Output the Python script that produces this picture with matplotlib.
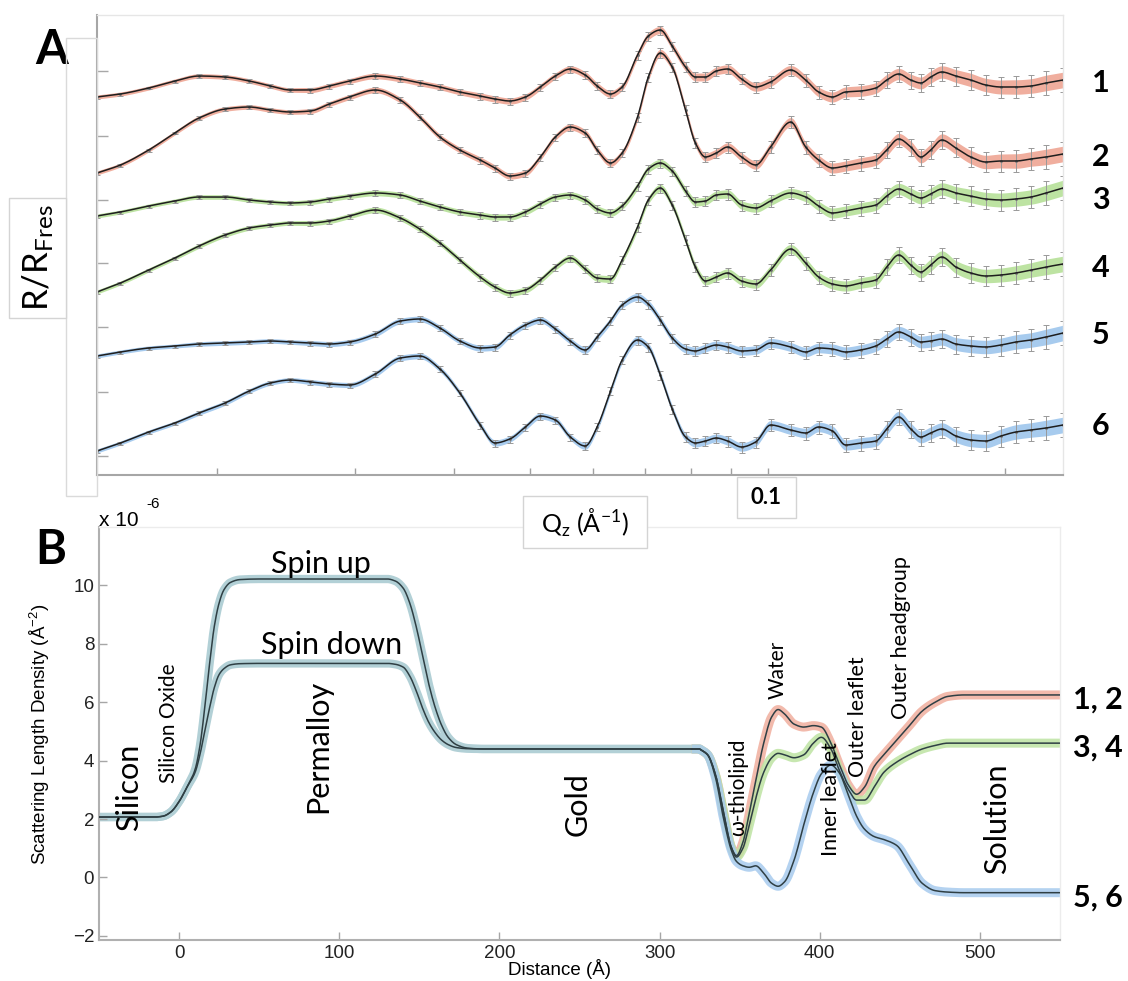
import numpy as np
import matplotlib
matplotlib.use('Agg')
import matplotlib.pyplot as plt
from matplotlib.patches import Rectangle
from matplotlib.ticker import NullFormatter, NullLocator

W, H = 1128, 981

# --- PANEL A DATA: R/RFres (offset, arbitrary units) on a shared Qz grid ---
q = [0.0141, 0.0151, 0.0164, 0.0177, 0.0190, 0.0205, 0.0220, 0.0234, 0.0248, 0.0263,
     0.0278, 0.0295, 0.0318, 0.0342, 0.0362, 0.0384, 0.0407, 0.0432, 0.0451, 0.0471,
     0.0493, 0.0515, 0.0538, 0.0562, 0.0587, 0.0608, 0.0632, 0.0654, 0.0684, 0.0706,
     0.0731, 0.0757, 0.0787, 0.0810, 0.0834, 0.0861, 0.0890, 0.0927, 0.0966, 0.1009,
     0.1070, 0.1118, 0.1161, 0.1209, 0.1256, 0.1313, 0.1372, 0.1417, 0.1467, 0.1520,
     0.1565, 0.1611, 0.1664, 0.1734, 0.1811, 0.1892, 0.1978, 0.2066, 0.2159, 0.2256, 0.2371]

r1 = [37.8, 38.1, 38.7, 39.4, 39.9, 39.8, 39.4, 38.9, 38.5, 38.5, 38.9, 39.4, 39.9, 39.6,
      39.2, 38.8, 38.3, 37.9, 37.6, 37.4, 37.8, 38.8, 39.9, 40.6, 40.0, 38.9, 38.1, 38.8,
      42.0, 43.9, 44.5, 42.9, 40.8, 39.8, 39.8, 40.4, 40.6, 39.6, 38.8, 39.3, 40.5, 39.5,
      38.3, 37.8, 38.3, 38.4, 38.7, 39.5, 40.1, 39.5, 39.2, 39.8, 40.3, 39.9, 39.5, 39.0,
      38.8, 38.8, 38.9, 39.2, 39.5]
r2 = [30.2, 31.0, 32.5, 34.2, 35.7, 36.6, 36.8, 36.5, 36.3, 36.4, 37.1, 37.8, 38.5, 37.5,
      35.8, 33.8, 32.5, 31.5, 30.7, 29.9, 30.2, 31.8, 33.8, 34.8, 34.2, 32.5, 31.2, 32.2,
      35.8, 39.8, 42.2, 40.8, 36.5, 33.2, 31.8, 32.2, 32.8, 31.8, 31.0, 32.8, 35.3, 32.8,
      31.5, 30.7, 30.9, 31.2, 31.5, 32.5, 33.6, 32.8, 31.8, 32.5, 33.5, 32.7, 31.8, 31.3,
      31.4, 31.4, 31.6, 31.8, 32.1]
r3 = [25.9, 26.3, 26.9, 27.4, 27.8, 27.8, 27.5, 27.3, 27.2, 27.3, 27.6, 27.9, 28.2, 28.0,
      27.4, 26.8, 26.3, 26.0, 25.8, 25.8, 26.3, 27.1, 27.8, 28.0, 27.5, 26.6, 26.2, 26.9,
      28.9, 30.6, 31.2, 30.4, 28.4, 27.3, 27.4, 28.0, 28.1, 27.0, 26.7, 27.4, 28.2, 27.8,
      26.9, 26.2, 26.4, 26.7, 27.0, 27.9, 28.6, 28.1, 27.7, 28.1, 28.6, 28.2, 27.9, 27.6,
      27.5, 27.6, 27.8, 28.2, 28.7]
r4 = [18.3, 19.2, 20.5, 21.7, 22.9, 24.0, 24.7, 25.0, 25.2, 25.2, 25.4, 25.9, 26.5, 25.7,
      24.6, 23.2, 21.5, 19.8, 18.8, 18.2, 18.5, 19.5, 20.8, 21.7, 20.6, 19.7, 19.6, 21.5,
      24.8, 27.5, 28.7, 27.0, 23.5, 20.8, 19.4, 19.8, 20.2, 19.4, 19.1, 20.5, 22.6, 21.2,
      19.8, 19.1, 18.9, 19.2, 19.5, 20.8, 22.0, 21.0, 20.3, 21.0, 21.8, 20.8, 20.2, 19.9,
      20.0, 20.2, 20.5, 20.8, 21.1]
r5 = [11.9, 12.3, 12.7, 12.9, 13.1, 13.2, 13.3, 13.4, 13.3, 13.2, 13.1, 13.3, 14.1, 15.4,
      15.6, 14.7, 13.4, 12.7, 12.8, 14.0, 15.0, 15.5, 14.6, 13.4, 12.5, 13.8, 15.4, 17.0,
      17.8, 17.1, 15.5, 13.7, 12.6, 12.4, 12.7, 13.0, 12.8, 12.4, 12.5, 13.2, 12.8, 12.3,
      12.7, 12.6, 12.3, 12.5, 12.9, 13.6, 14.3, 13.8, 13.3, 13.4, 13.6, 13.1, 12.9, 12.8,
      13.0, 13.3, 13.5, 13.8, 14.2]
r6 = [2.4, 3.2, 4.3, 5.2, 6.2, 7.2, 8.4, 9.2, 9.5, 9.3, 9.1, 9.0, 10.1, 11.7,
      11.9, 10.6, 8.2, 5.0, 3.2, 3.6, 4.8, 5.9, 5.5, 3.8, 2.9, 4.8, 8.4, 11.5,
      13.5, 12.8, 10.0, 6.6, 3.8, 3.2, 3.4, 3.7, 3.4, 2.8, 3.3, 5.0, 4.5, 4.2,
      4.8, 4.4, 3.0, 3.2, 3.4, 4.6, 5.8, 4.6, 3.8, 4.2, 4.6, 3.9, 3.5, 3.4,
      3.9, 4.3, 4.5, 4.7, 5.0]
err = [0.15, 0.15, 0.15, 0.15, 0.2, 0.2, 0.2, 0.2, 0.2, 0.25, 0.25, 0.25,
       0.3, 0.3, 0.3, 0.3, 0.3, 0.35, 0.35, 0.35, 0.35, 0.35, 0.35, 0.35, 0.4,
       0.4, 0.4, 0.4, 0.45, 0.45, 0.45, 0.45, 0.5, 0.5, 0.5, 0.5, 0.55, 0.55, 0.55,
       0.6, 0.6, 0.65, 0.65, 0.7, 0.7, 0.75, 0.75, 0.8, 0.8,
       0.85, 0.85, 0.9, 0.9, 0.95, 1.0, 1.0, 1.05, 1.1, 1.1, 1.2, 1.2]
curve_labels = ['1', '2', '3', '4', '5', '6']
a_yticks = [1.9, 8.3, 14.8, 21.2, 27.5, 33.9, 40.4]

# --- PANEL B DATA: SLD profiles (1e-6 / A^2) ---
sub_d = [-50, -15, -10, -5, 0, 5, 10, 13, 16, 19, 22, 25, 28, 32, 38, 50, 130, 135,
         140, 144, 148, 152, 156, 160, 164, 168, 173, 180, 190, 320]
spin_up = [2.07, 2.07, 2.1, 2.25, 2.6, 3.1, 3.7, 4.5, 5.8, 7.3, 8.6, 9.4, 9.85, 10.1,
           10.2, 10.22, 10.22, 10.15, 9.9, 9.4, 8.6, 7.6, 6.6, 5.8, 5.2, 4.8, 4.55,
           4.43, 4.4, 4.4]
spin_down = [2.07, 2.07, 2.1, 2.25, 2.6, 3.1, 3.6, 4.2, 5.0, 5.8, 6.5, 6.95, 7.15, 7.28,
             7.32, 7.33, 7.33, 7.3, 7.2, 6.9, 6.4, 5.8, 5.3, 4.95, 4.7, 4.55, 4.45,
             4.41, 4.4, 4.4]
tail_d = [325, 330, 335, 340, 345, 348, 352, 356, 360, 365, 370, 374, 378, 384, 390, 396,
          401, 407, 412, 418, 423, 428, 434, 440, 448, 456, 464, 472, 480, 490, 550]
tail_12 = [4.4, 4.2, 3.5, 2.2, 1.0, 0.75, 1.2, 2.2, 3.3, 4.6, 5.5, 5.75, 5.6, 5.25, 5.15,
           5.2, 5.15, 4.6, 3.9, 3.15, 2.85, 3.1, 3.8, 4.2, 4.7, 5.2, 5.7, 6.0, 6.2, 6.25, 6.25]
tail_34 = [4.4, 4.2, 3.5, 2.2, 1.0, 0.7, 1.0, 1.8, 2.7, 3.6, 4.1, 4.25, 4.2, 4.1, 4.2,
           4.6, 4.8, 4.4, 3.7, 3.0, 2.65, 2.65, 3.1, 3.6, 3.95, 4.2, 4.4, 4.52, 4.6, 4.6, 4.6]
tail_56 = [4.4, 4.2, 3.4, 2.0, 0.9, 0.55, 0.4, 0.35, 0.4, 0.15, -0.2, -0.3, -0.15, 0.6, 1.8,
           2.9, 3.55, 3.85, 3.6, 2.8, 2.1, 1.65, 1.4, 1.3, 1.1, 0.45, -0.2, -0.45, -0.5,
           -0.52, -0.52]
group_labels = ['1, 2', '3, 4', '5, 6']

RED, GREEN, BLUE = '#f0ae9e', '#bde3a2', '#a7cbee'
SUB = '#b2d0d6'
LINE_B = '#2f3f44'


def pchip(x, y, n=10):
    """Smooth monotone cubic through the read points (display only)."""
    x = np.asarray(x, float)
    y = np.asarray(y, float)
    h = np.diff(x)
    s = np.diff(y) / h
    m = np.zeros_like(y)
    m[0], m[-1] = s[0], s[-1]
    for k in range(1, len(x) - 1):
        if s[k - 1] * s[k] > 0:
            w1 = 2 * h[k] + h[k - 1]
            w2 = h[k] + 2 * h[k - 1]
            m[k] = (w1 + w2) / (w1 / s[k - 1] + w2 / s[k])
    t = np.linspace(0, 1, n, endpoint=False)
    h00 = 2 * t**3 - 3 * t**2 + 1
    h10 = t**3 - 2 * t**2 + t
    h01 = -2 * t**3 + 3 * t**2
    h11 = t**3 - t**2
    xs, ys = [], []
    for k in range(len(h)):
        xs.append(x[k] + t * h[k])
        ys.append(h00 * y[k] + h10 * h[k] * m[k] + h01 * y[k + 1] + h11 * h[k] * m[k + 1])
    xs.append([x[-1]])
    ys.append([y[-1]])
    return np.concatenate(xs), np.concatenate(ys)


def fig_xy(px, py):
    return px / W, 1 - py / H


def fig_box(fig, x0, y0, x1, y1, fill=True, ec='#d4d4d4'):
    fig.add_artist(Rectangle((x0 / W, 1 - y1 / H), (x1 - x0) / W, (y1 - y0) / H,
                             transform=fig.transFigure, facecolor='white' if fill else 'none',
                             edgecolor=ec, lw=1, zorder=5))


plt.rcParams['font.family'] = ['Liberation Sans', 'DejaVu Sans']
plt.rcParams['mathtext.fontset'] = 'custom'
plt.rcParams['mathtext.rm'] = 'Liberation Sans'
plt.rcParams['mathtext.it'] = 'Liberation Sans'
CAL = ['Lato', 'DejaVu Sans']

fig = plt.figure(figsize=(W / 100, H / 100), dpi=100)

# --- PANEL A ---
ax_a = fig.add_axes([97 / W, 1 - 475 / H, (1063 - 97) / W, 460 / H])
ax_a.set_xscale('log')
ax_a.set_xlim(q[0], q[-1])
ax_a.set_ylim(0, 46)
lq = np.log10(q)
for vals, col in zip([r1, r2, r3, r4, r5, r6], [RED, RED, GREEN, GREEN, BLUE, BLUE]):
    lx, ly = pchip(lq, vals)
    xs = 10 ** lx
    bw = np.interp(lx, lq, err) * 0.55 + 0.12
    ax_a.fill_between(xs, ly - bw, ly + bw, color=col, lw=0, zorder=1)
    ax_a.errorbar(q, vals, yerr=err, fmt='o', ms=1.1, color='#777777', ecolor='#999999',
                  elinewidth=0.7, capsize=2.2, capthick=0.7, zorder=2)
    ax_a.plot(xs, ly, color='#1e1e1e', lw=1.1, zorder=3)

ax_a.set_xticks([0.1])
ax_a.set_xticklabels([''])
ax_a.set_xticks([0.02, 0.03, 0.04, 0.05, 0.06, 0.07, 0.08, 0.09, 0.2], minor=True)
ax_a.xaxis.set_minor_formatter(NullFormatter())
ax_a.tick_params(axis='x', which='both', direction='in', length=5, width=1, color='#a0a0a0')
ax_a.set_yticks(a_yticks)
ax_a.set_yticklabels([])
ax_a.yaxis.set_minor_locator(NullLocator())
ax_a.tick_params(axis='y', direction='in', length=8, width=1, color='#a8a8a8')
for side in ['left', 'bottom']:
    ax_a.spines[side].set_color('#a6a6a6')
    ax_a.spines[side].set_linewidth(1.5)
for side in ['top', 'right']:
    ax_a.spines[side].set_color('#e6e6e6')
    ax_a.spines[side].set_linewidth(1)

label_py = [83, 157, 200, 268, 335, 426]
for lab, py in zip(curve_labels, label_py):
    fig.text(*fig_xy(1101, py), lab, family=CAL, weight='bold', size=22,
             ha='center', va='center')

# cover boxes around panel A labels
fig_box(fig, 66, 38, 97, 496, fill=False, ec='#dadada')
fig_box(fig, 9, 198, 66, 318)
fig.text(*fig_xy(38, 258), r'R/R$_{\mathregular{Fres}}$', family=CAL, size=25,
         rotation=90, ha='center', va='center', zorder=6)
fig_box(fig, 737, 477, 796, 518)
fig.text(*fig_xy(766, 498), '0.1', family=CAL, weight='bold', size=16,
         ha='center', va='center', zorder=6)
fig_box(fig, 523, 496, 647, 548)
fig.text(*fig_xy(585, 523), r'Q$_{\mathregular{z}}$ (Å$^{\mathregular{-1}}$)', family=CAL,
         size=18, ha='center', va='center', zorder=6)
fig.text(*fig_xy(52, 50), 'A', family=CAL, weight='bold', size=34, ha='center', va='center')

# --- PANEL B ---
ax_b = fig.add_axes([99 / W, 1 - 940 / H, (1060 - 99) / W, (940 - 527) / H])
ax_b.set_xlim(-50, 550)
ax_b.set_ylim(-2.14, 12)
sd, sv_up = pchip(sub_d, spin_up, n=8)
_, sv_dn = pchip(sub_d, spin_down, n=8)
for sv in [sv_up, sv_dn]:
    ax_b.plot(sd, sv, color=SUB, lw=6, solid_capstyle='butt', zorder=1)
tails = []
for tail in [tail_12, tail_34, tail_56]:
    td, tv = pchip(tail_d, tail, n=8)
    tails.append((np.r_[sd[-1:], td], np.r_[sv_up[-1:], tv]))
for (tx, ty), col in zip(tails, [RED, GREEN, BLUE]):
    ax_b.plot(tx, ty, color=col, lw=6.5, solid_capstyle='butt', alpha=0.85, zorder=1)
for sv in [sv_up, sv_dn]:
    ax_b.plot(sd, sv, color=LINE_B, lw=1.1, zorder=3)
for tx, ty in tails:
    ax_b.plot(tx, ty, color=LINE_B, lw=1.1, zorder=3)

ax_b.set_xticks([0, 100, 200, 300, 400, 500])
ax_b.set_yticks([-2, 0, 2, 4, 6, 8, 10])
ax_b.tick_params(direction='in', length=6, width=1, color='#a6a6a6', labelsize=13.5,
                 labelcolor='#222222')
for side in ['left', 'bottom']:
    ax_b.spines[side].set_color('#b0b0b0')
    ax_b.spines[side].set_linewidth(1.5)
for side in ['top', 'right']:
    ax_b.spines[side].set_color('#ececec')
    ax_b.spines[side].set_linewidth(1)

fig.text(*fig_xy(40, 734), r'Scattering Length Density (Å$^{\mathregular{-2}}$)',
         family=['Liberation Sans Narrow', 'Liberation Sans'], size=13.5, rotation=90,
         ha='center', va='center')
fig.text(*fig_xy(560, 969), 'Distance (Å)', size=13.5, ha='center', va='center')
fig.text(*fig_xy(99, 526), 'x 10', size=15, ha='left', va='baseline')
fig.text(*fig_xy(146, 508), '-6', size=11, ha='left', va='baseline')
fig.text(*fig_xy(51, 550), 'B', family=CAL, weight='bold', size=34, ha='center', va='center')

notes = [('Silicon', -31, 3.1, 22), ('Silicon Oxide', -6, 5.3, 15),
         ('Permalloy', 87, 4.5, 22), ('Gold', 249, 2.5, 22),
         ('ω-thiolipid', 349, 3.1, 15), ('Water', 374, 7.1, 15),
         ('Outer leaflet', 424, 5.5, 15.5), ('Outer headgroup', 451, 8.2, 15.5),
         ('Inner leaflet', 407, 2.7, 15.5), ('Solution', 511, 2.0, 22)]
for txt, d, v, fs in notes:
    ax_b.text(d, v, txt, family=CAL, size=fs, rotation=90, ha='center', va='center', zorder=4)
ax_b.text(88.5, 10.75, 'Spin up', family=CAL, size=22, ha='center', va='center')
ax_b.text(95, 7.95, 'Spin down', family=CAL, size=22, ha='center', va='center')

for lab, py in zip(group_labels, [700, 748, 898]):
    fig.text(*fig_xy(1098, py), lab, family=CAL, weight='bold', size=22,
             ha='center', va='center')

fig.savefig('out.png', dpi=100)
